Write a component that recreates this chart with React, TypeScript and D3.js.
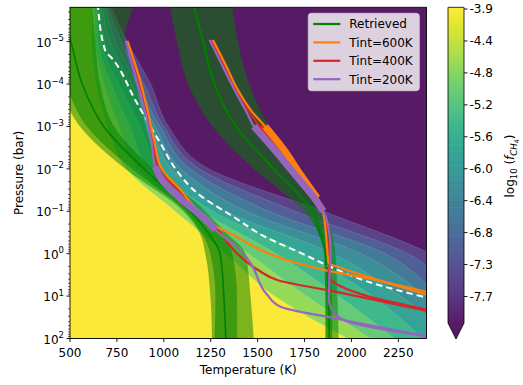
import React from "react";
import * as d3 from "d3";

// ---- contour field: temperature (K) where log10(f_CH4) crosses each level, per log10(P) row
const contourLogP = [-6, -5, -4, -3, -2, -1, 0, 1, 2];
const levelValues = [-3.9, -4.4, -4.8, -5.2, -5.6, -6.0, -6.4, -6.8, -7.3, -7.7];
const iso44 = [615, 615, 640, 700, 800, 1060, 1330, 1590, 1980];
const iso48 = [628, 635, 680, 760, 860, 1130, 1450, 1760, 2100];
const iso52 = [640, 650, 720, 820, 920, 1200, 1600, 1930, 2230];
const iso56 = [650, 665, 760, 875, 980, 1260, 1740, 2110, 2380];
const iso60 = [658, 685, 800, 930, 1040, 1330, 1900, 2260, 2550];
const iso64 = [666, 715, 830, 955, 1090, 1440, 2050, 2400, 2700];
const iso68 = [676, 745, 860, 980, 1140, 1560, 2180, 2480, 2850];
const iso73 = [688, 775, 895, 1000, 1190, 1700, 2300, 2600, 3000];
const iso77 = [700, 805, 930, 1025, 1240, 1850, 2420, 2750, 3150];
const isoLines = [iso44, iso48, iso52, iso56, iso60, iso64, iso68, iso73, iso77];

// ---- retrieved profiles (median, 1 sigma, 2 sigma)
const bandLogP = [-6, -5, -4, -3, -2, -1, -0.5, 0, 1, 2];
const coldMid = [440, 505, 565, 680, 895, 1141, 1235, 1300, 1320, 1330];
const coldLo1 = [360, 420, 480, 590, 830, 1115, 1200, 1248, 1275, 1271];
const coldHi1 = [615, 635, 660, 735, 940, 1190, 1290, 1365, 1390, 1391];
const coldLo2 = [300, 350, 440, 553, 794, 1104, 1190, 1221, 1248, 1257];
const coldHi2 = [855, 790, 850, 905, 985, 1220, 1330, 1435, 1462, 1479];
const hotMid = [1150, 1210, 1270, 1385, 1585, 1790, 1830, 1862, 1878, 1882];
const hotLo1 = [1142, 1202, 1262, 1377, 1577, 1780, 1822, 1855, 1862, 1862];
const hotHi1 = [1158, 1218, 1278, 1393, 1595, 1805, 1850, 1885, 1895, 1898];
const hotLo2 = [1025, 1070, 1130, 1260, 1480, 1745, 1822, 1855, 1860, 1862];
const hotHi2 = [1360, 1395, 1455, 1560, 1700, 1855, 1895, 1915, 1925, 1932];

// ---- dashed boundary
const dashT = [648, 687, 731, 847, 981, 1077, 1178, 1371, 1552, 1729, 1878, 2087, 2386, 2440];
const dashLogP = [-5.9, -4.8, -4.57, -3.63, -2.61, -1.91, -1.43, -0.87, -0.37, -0.02, 0.29, 0.66, 1.02, 1.08];

// ---- Tint model profiles
const t600ColdT = [806, 868, 913, 948, 984, 1022, 1090, 1161, 1284, 1371, 1515, 1675, 1871, 2085, 2400];
const t600ColdP = [-5.02, -4.17, -3.39, -2.68, -2.05, -1.82, -1.5, -1.11, -0.63, -0.44, -0.09, 0.18, 0.4, 0.58, 0.9];
const t400ColdT = [801, 862, 905, 940, 968, 1004, 1093, 1181, 1290, 1302, 1408, 1515, 1604, 1907, 2405];
const t400ColdP = [-5.02, -4.17, -3.39, -2.68, -2.05, -1.8, -1.45, -1.0, -0.55, -0.48, 0.07, 0.42, 0.62, 0.89, 1.35];
const t200ColdT = [797, 850, 898, 933, 954, 990, 1097, 1203, 1275, 1290, 1408, 1462, 1551, 1622, 1907, 2405];
const t200ColdP = [-5.02, -4.17, -3.39, -2.68, -2.05, -1.74, -1.27, -0.88, -0.56, -0.5, -0.08, 0.22, 0.97, 1.25, 1.52, 1.95];
const t600HotT = [1262, 1330, 1390, 1470, 1540, 1640, 1729, 1818, 1840, 1853, 1871, 1877, 1942, 2085, 2405];
const t600HotP = [-5.04, -4.45, -3.9, -3.35, -3.0, -2.45, -1.86, -1.31, -1.15, -0.88, -0.09, 0.22, 0.33, 0.54, 0.97];
const t400HotT = [1253, 1320, 1381, 1455, 1510, 1615, 1714, 1812, 1845, 1866, 1875, 1880, 1942, 2085, 2405];
const t400HotP = [-5.04, -4.45, -3.9, -3.35, -3.0, -2.45, -1.86, -1.29, -1.05, -0.72, -0.09, 0.54, 0.77, 1.0, 1.32];
const t200HotT = [1244, 1310, 1372, 1440, 1480, 1590, 1700, 1809, 1850, 1880, 1889, 1884, 1880, 1898, 1978, 2405];
const t200HotP = [-5.04, -4.45, -3.9, -3.35, -3.0, -2.45, -1.86, -1.27, -1.0, -0.56, -0.09, 0.4, 1.09, 1.33, 1.6, 1.95];

const xTicks = [500, 750, 1000, 1250, 1500, 1750, 2000, 2250];
const yTickExp = [-5, -4, -3, -2, -1, 0, 1, 2];
const cbTickLabels = ["-3.9", "-4.4", "-4.8", "-5.2", "-5.6", "-6.0", "-6.4", "-6.8", "-7.3", "-7.7"];
const legendLabels = ["Retrieved", "Tint=600K", "Tint=400K", "Tint=200K"];
const legendColors = ["#008000", "#ff7f0e", "#d62728", "#9467bd"];

const VMAX = -3.88;
const VMIN = -8.04;
const FONT = "DejaVu Sans, sans-serif";

function fieldColor(v: number) {
  const t = Math.max(0, Math.min(1, (v - VMIN) / (VMAX - VMIN)));
  return d3.interpolateRgb("#ffffff", d3.interpolateViridis(t))(0.9);
}

export default function App() {
  const x = d3.scaleLinear().domain([500, 2400]).range([70, 426.5]);
  const y = d3.scaleLog().domain([Math.pow(10, -5.81), 100]).range([7.3, 338.5]);
  const yp = (lp: number) => y(Math.pow(10, lp));
  const [px0, px1] = x.range();
  const [py0, py1] = y.range();

  const leftOf = (T: number[]) =>
    d3.area<number>()
      .y((_, i) => yp(contourLogP[i]))
      .x0(x(200))
      .x1((d) => x(d))
      .curve(d3.curveMonotoneY)(T) || "";
  const isoPath = (T: number[]) =>
    d3.line<number>()
      .y((_, i) => yp(contourLogP[i]))
      .x((d) => x(d))
      .curve(d3.curveMonotoneY)(T) || "";
  const band = (lo: number[], hi: number[]) =>
    d3.area<number>()
      .y((_, i) => yp(bandLogP[i]))
      .x0((_, i) => x(lo[i]))
      .x1((_, i) => x(hi[i]))
      .curve(d3.curveMonotoneY)(lo) || "";
  const curve = (T: number[], P: number[]) =>
    d3.line<[number, number]>()
      .x((d) => x(d[0]))
      .y((d) => yp(d[1]))
      .curve(d3.curveMonotoneY)(d3.zip(T, P) as [number, number][]) || "";
  const thickPart = (T: number[], P: number[], a: number, b: number) => {
    const pts = (d3.zip(T, P) as [number, number][]).filter((d) => d[1] >= a && d[1] <= b);
    return d3.line<[number, number]>().x((d) => x(d[0])).y((d) => yp(d[1])).curve(d3.curveMonotoneY)(pts) || "";
  };

  // red first, then orange, then purple on top
  const profiles = [
    { T: t400ColdT, P: t400ColdP, c: legendColors[2], thick: null as null | [number, number] },
    { T: t600ColdT, P: t600ColdP, c: legendColors[1], thick: null },
    { T: t200ColdT, P: t200ColdP, c: legendColors[3], thick: [-2.05, -0.56] as [number, number] },
    { T: t400HotT, P: t400HotP, c: legendColors[2], thick: [-3.0, -1.29] as [number, number] },
    { T: t600HotT, P: t600HotP, c: legendColors[1], thick: [-3.0, -1.31] as [number, number] },
    { T: t200HotT, P: t200HotP, c: legendColors[3], thick: [-3.0, -1.0] as [number, number] },
  ];

  // band colour = middle of its level interval, yellow for the top one
  const bandValue = (j: number) => (j === 0 ? levelValues[0] : (levelValues[j] + levelValues[j + 1]) / 2);

  const minor: number[] = [];
  for (let k = -6; k <= 1; k++) for (let m = 2; m <= 9; m++) {
    const v = m * Math.pow(10, k);
    if (v >= y.domain()[0] && v <= y.domain()[1]) minor.push(v);
  }

  const cbX = 448, cbW = 16, cbTop = 7.3, cbBot = 323, cbTip = 339;
  const cbScale = d3.scaleLinear().domain([VMAX, VMIN]).range([cbTop, cbBot]);
  const cbTick = d3.scaleLinear().domain([0, 9]).range([9, 296.5]);
  const stripes = d3.range(90).map((i) => VMAX + ((VMIN - VMAX) * i) / 90);
  const stripeH = (cbBot - cbTop) / 90;

  const green = "#008000";

  return (
    <svg width={523} height={385} style={{ position: "absolute", left: 0, top: 0 }} fontFamily={FONT}>
      <defs>
        <clipPath id="plotclip">
          <rect x={px0} y={py0} width={px1 - px0} height={py1 - py0} />
        </clipPath>
      </defs>
      <rect width={523} height={385} fill="#ffffff" />
      <g clipPath="url(#plotclip)">
        <rect x={px0} y={py0} width={px1 - px0} height={py1 - py0} fill={fieldColor(VMIN - 1)} />
        {isoLines.slice().reverse().map((T, ri) => {
          const j = isoLines.length - 1 - ri;
          return <path key={"iso" + j} d={leftOf(T)} fill={fieldColor(bandValue(j))} />;
        })}
        {isoLines.map((T, j) => (
          <path key={"isol" + j} d={isoPath(T)} fill="none" stroke="#ffffff" strokeOpacity={0.22} strokeWidth={0.6} />
        ))}

        <path d={band(coldLo2, coldHi2)} fill={green} fillOpacity={0.5} />
        <path d={band(coldLo1, coldHi1)} fill={green} fillOpacity={0.5} />
        <path d={band(hotLo2, hotHi2)} fill={green} fillOpacity={0.5} />
        <path d={band(hotLo1, hotHi1)} fill={green} fillOpacity={0.5} />
        <path d={curve(coldMid, bandLogP)} fill="none" stroke={green} strokeWidth={1.6} />
        <path d={curve(hotMid, bandLogP)} fill="none" stroke={green} strokeWidth={1.6} />

        <path d={curve(dashT, dashLogP)} fill="none" stroke="#ffffff" strokeWidth={2} strokeDasharray="6.5,4" />

        {profiles.map((p, i) => (
          <g key={"pr" + i}>
            <path d={curve(p.T, p.P)} fill="none" stroke={p.c} strokeWidth={2.2} strokeLinejoin="round" />
            {p.thick && (
              <path d={thickPart(p.T, p.P, p.thick[0], p.thick[1])} fill="none" stroke={p.c} strokeWidth={7} />
            )}
          </g>
        ))}
      </g>

      <rect x={px0} y={py0} width={px1 - px0} height={py1 - py0} fill="none" stroke="#000" strokeWidth={0.9} />

      {xTicks.map((t) => (
        <g key={"xt" + t}>
          <line x1={x(t)} x2={x(t)} y1={py1} y2={py1 + 3.5} stroke="#000" strokeWidth={0.9} />
          <text x={x(t)} y={py1 + 18.5} textAnchor="middle" fontSize={12}>{t}</text>
        </g>
      ))}
      <text x={(px0 + px1) / 2} y={374} textAnchor="middle" fontSize={12}>Temperature (K)</text>

      {minor.map((v, i) => (
        <line key={"ym" + i} x1={px0 - 2} x2={px0} y1={y(v)} y2={y(v)} stroke="#000" strokeWidth={0.6} />
      ))}
      {yTickExp.map((e) => (
        <g key={"yt" + e}>
          <line x1={px0 - 3.5} x2={px0} y1={yp(e)} y2={yp(e)} stroke="#000" strokeWidth={0.9} />
          <text x={px0 - 6} y={yp(e) + 5} textAnchor="end" fontSize={12}>
            10<tspan dy={-5.5} fontSize={8.5}>{e < 0 ? "\u2212" + Math.abs(e) : String(e)}</tspan>
          </text>
        </g>
      ))}
      <text transform={`translate(23,${(py0 + py1) / 2}) rotate(-90)`} textAnchor="middle" fontSize={12}>Pressure (bar)</text>

      <rect x={308.3} y={13.3} width={111} height={77.4} rx={3} fill="#ffffff" fillOpacity={0.8} stroke="#cccccc" strokeWidth={0.9} />
      {legendLabels.map((l, i) => (
        <g key={"lg" + i} transform={`translate(313.3,${24 + i * 18.4})`}>
          <line x1={0} x2={27} y1={0} y2={0} stroke={legendColors[i]} strokeWidth={2.2} />
          <text x={36} y={4.4} fontSize={12}>{l}</text>
        </g>
      ))}

      {stripes.map((v, i) => (
        <rect key={"cb" + i} x={cbX} y={cbScale(v)} width={cbW} height={stripeH + 0.6} fill={fieldColor(v)} />
      ))}
      <path d={`M${cbX},${cbBot}L${cbX + cbW},${cbBot}L${cbX + cbW / 2},${cbTip}Z`} fill={fieldColor(VMIN - 1)} />
      <path
        d={`M${cbX},${cbTop}L${cbX + cbW},${cbTop}L${cbX + cbW},${cbBot}L${cbX + cbW / 2},${cbTip}L${cbX},${cbBot}Z`}
        fill="none" stroke="#000" strokeWidth={0.8}
      />
      {cbTickLabels.map((l, i) => (
        <g key={"cbt" + i}>
          <line x1={cbX + cbW} x2={cbX + cbW + 3.5} y1={cbTick(i)} y2={cbTick(i)} stroke="#000" strokeWidth={0.9} />
          <text x={cbX + cbW + 5.5} y={cbTick(i) + 4.3} fontSize={12}>{l}</text>
        </g>
      ))}
      <text transform={`translate(514,166) rotate(-90)`} textAnchor="middle" fontSize={12}>
        log<tspan dy={3} fontSize={8.5}>10</tspan>
        <tspan dy={-3}> (</tspan>
        <tspan fontStyle="italic">f</tspan>
        <tspan dy={3} fontSize={8.5} fontStyle="italic">CH</tspan>
        <tspan dy={2} fontSize={6.5}>4</tspan>
        <tspan dy={-5}>)</tspan>
      </text>
    </svg>
  );
}
